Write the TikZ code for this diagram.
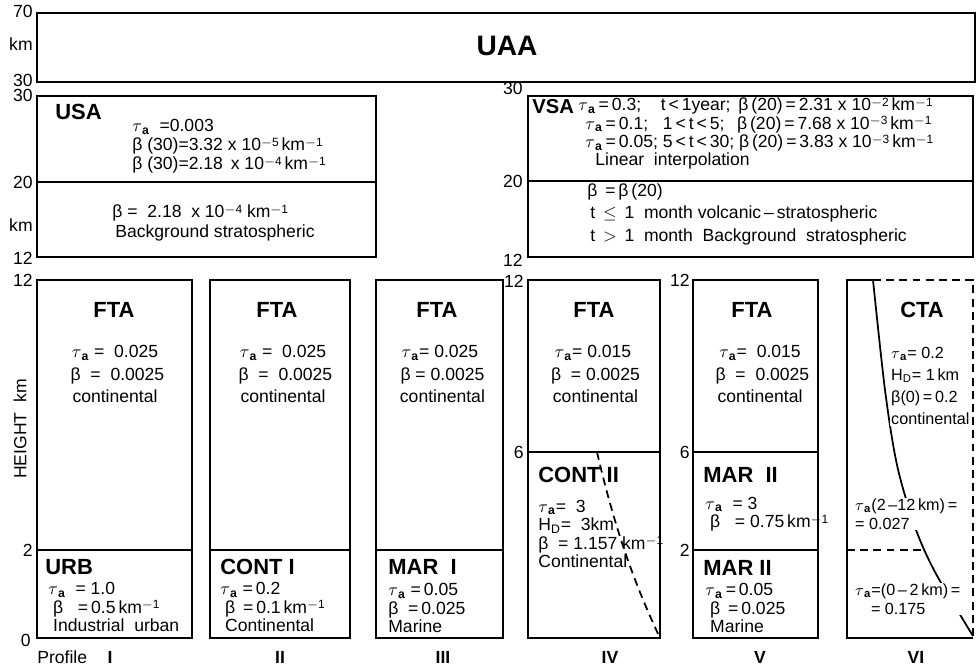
\documentclass[tikz,border=0pt]{standalone}
\usepackage{fontspec}
\setmainfont{Liberation Sans}
\usetikzlibrary{positioning}

\newcommand{\taua}{$\tau$\textsubscript{\textbf{a}}}
\newcommand{\hd}{H\textsubscript{D}}
\newcommand{\sups}[1]{\raisebox{2.6pt}{\fontsize{6.8}{7}\selectfont #1}}
\newcommand{\kmi}{km\sups{$-$1}}
\newcommand{\ten}[1]{10\sups{$-$#1}}
\newcommand{\tight}{\lineskiplimit=-20pt\relax}

\begin{document}
\begin{tikzpicture}[x=0.02cm,y=-0.02cm,
    frame/.style={line width=1pt},
    dsh/.style={line width=1pt,dash pattern=on 4.5pt off 3pt},
    txt/.style={font=\fontsize{10}{12.6}\selectfont\tight,inner sep=0pt,align=left,anchor=west},
    low/.style={font=\fontsize{10}{10.6}\selectfont\tight,inner sep=0pt,align=left,anchor=west},
    mid/.style={font=\fontsize{10}{12.6}\selectfont\tight,inner sep=0pt,align=center},
    cut/.style={font=\fontsize{9.2}{10.6}\selectfont\tight,inner sep=0.5pt,align=left,anchor=west,fill=white},
    ttl/.style={font=\fontsize{12.5}{14}\selectfont\bfseries,inner sep=0pt},
    tick/.style={font=\fontsize{10}{12}\selectfont,inner sep=0pt,anchor=east},
    num/.style={font=\fontsize{10}{12}\selectfont\bfseries,inner sep=0pt}
  ]
  \useasboundingbox (0,0) rectangle (978,669);

  % upper atmospheric aerosol
  \draw[frame] (37,13) rectangle (975,82);
  \node[font=\fontsize{16}{18}\selectfont\bfseries,inner sep=0pt] (uaa) at (507,46) {UAA};
  \node[tick] (t70) at (33,11) {70};
  \node[tick] (tkma) at (33,44) {km};
  \node[tick] (t30a) at (33,80) {30};

  % stratosphere, background
  \draw[frame] (37,96) rectangle (376,257);
  \draw[frame] (37,182) -- (376,182);
  \node[tick] (t30b) at (33,95) {30};
  \node[tick] (t20b) at (33,182) {20};
  \node[tick] (tkmb) at (33,225) {km};
  \node[tick] (t12b) at (33,258) {12};
  \node[ttl,anchor=west] (usa) at (55,112) {USA};
  \node[txt] (usa1) at (132,127) {\taua{} \ =0.003};
  \node[txt] (usa2) at (132,146) {β (30)=3.32 x \ten{5}\,\kmi};
  \node[txt] (usa3) at (132,165) {β (30)=2.18 \,x \ten{4}\,\kmi};
  \node[txt] (usa4) at (112,213) {β = \ 2.18 \ x \ten{4} \kmi};
  \node[txt] (usa5) at (115,233) {Background stratospheric};

  % stratosphere, volcanic
  \draw[frame] (528,96) rectangle (973,257);
  \draw[frame] (528,181) -- (973,181);
  \node[tick] (t30c) at (523,88) {30};
  \node[tick] (t20c) at (523,181) {20};
  \node[tick] (t12c) at (523,260) {12};
  \node[ttl,anchor=west,font=\fontsize{11.5}{14}\selectfont\bfseries] (vsa) at (532,107) {VSA};
  \node[txt] (vsa1) at (578,106) {\taua{}\,=\,0.3; \ \ \ t\,<\,1year; \,β\,(20)\,=\,2.31 x \ten{2}\,\kmi};
  \node[txt] (vsa2) at (585,124.5) {\taua{}\,=\,0.1; \ \ 1\,<\,t\,<\,5; \ \,β\,(20)\,=\,7.68 x \ten{3}\,\kmi};
  \node[txt] (vsa3) at (585,143) {\taua{}\,=\,0.05; 5\,<\,t\,<\,30; β\,(20)\,=\,3.83 x \ten{3}\,\kmi};
  \node[txt] (vsa4) at (595,161) {Linear \ interpolation};
  \node[txt] (vsa5) at (587,192) {β \,=\,β\,(20)};
  \node[txt] (vsa6) at (590,214) {t \,$\leq$\, 1 \ month volcanic\,--\,stratospheric};
  \node[txt] (vsa7) at (590,237) {t \,$>$\, 1 \ month \ Background \ stratospheric};

  % profile boxes
  \draw[frame] (37,280) rectangle (192,638);
  \draw[frame] (37,550) -- (192,550);
  \draw[frame] (210,280) rectangle (350,638);
  \draw[frame] (210,550) -- (350,550);
  \draw[frame] (376,280) rectangle (503,638);
  \draw[frame] (376,550) -- (503,550);
  \draw[frame] (528,280) rectangle (660,638);
  \draw[frame] (528,452) -- (660,452);
  \draw[frame] (693,280) rectangle (818,638);
  \draw[frame] (693,452) -- (818,452);
  \draw[frame] (693,550) -- (818,550);
  \draw[frame] (873,280) -- (847,280) -- (847,638) -- (973,638);
  \draw[dsh] (873,280) -- (973,280) -- (973,638);
  \draw[dsh] (847,550) -- (925,550);

  % decreasing profiles
  \draw[dsh] (597,452) .. controls (615,530) and (635,585) .. (660,638);
  \draw[frame] plot[smooth] coordinates {(873,280) (885,390) (897,465) (915,527) (935,572) (973,636)};

  % axis ticks
  \node[tick] (t12d) at (33,280) {12};
  \node[tick] (t2d) at (33,550) {2};
  \node[tick] (t0d) at (31,640) {0};
  \node[rotate=90,font=\fontsize{10}{12}\selectfont,inner sep=0pt] (hgt) at (20,429) {HEIGHT \ km};
  \node[tick] (t12e) at (524,281) {12};
  \node[tick] (t6e) at (524,452) {6};
  \node[tick] (t12f) at (690,280) {12};
  \node[tick] (t6f) at (690,452) {6};
  \node[tick] (t2f) at (690,550) {2};

  % profile I
  \node[ttl] (fta1) at (114,310) {FTA};
  \node[mid] (fta1t) at (115,374) {\taua{} = \ 0.025\\ \ β \ = \ 0.0025\\ continental};
  \node[ttl,anchor=west] (urb) at (45,567) {URB};
  \node[low] (urbt) at (48,607) {\taua{} \ = 1.0\\ \ β \ \ =\,0.5\,\kmi\\ \ Industrial \ urban};

  % profile II
  \node[ttl] (fta2) at (277,310) {FTA};
  \node[mid] (fta2t) at (283,374) {\taua{} = \ 0.025\\ \ β \ = \ 0.0025\\ continental};
  \node[ttl,anchor=west] (cont1) at (220,567) {CONT I};
  \node[low] (cont1t) at (220,607) {\taua{} =\,0.2\\ \ β \,=\,0.1\,\kmi\\ \ Continental};

  % profile III
  \node[ttl] (fta3) at (437,310) {FTA};
  \node[mid] (fta3t) at (440,374) {\taua{}= 0.025\\ \ β = 0.0025\\ \ continental};
  \node[ttl,anchor=west] (mar1) at (388,567) {MAR \ I};
  \node[low] (mar1t) at (388,608) {\taua{} =\,0.05\\ β \ =\,0.025\\ Marine};

  % profile IV
  \node[ttl] (fta4) at (594,310) {FTA};
  \node[mid] (fta4t) at (593,374) {\taua{}= 0.015\\ \ β \ = 0.0025\\ \ continental};
  \node[ttl,anchor=west] (cont2) at (538,475) {CONT II};
  \node[low] (cont2t) at (538,534) {\taua{}= \ 3\\ \hd= \ 3km\\ β \ = 1.157 \kmi\\ Continental};

  % profile V
  \node[ttl] (fta5) at (752,310) {FTA};
  \node[mid] (fta5t) at (760,374) {\taua{}= \ 0.015\\ \ β \ = \ 0.0025\\ continental};
  \node[ttl,anchor=west] (mar2a) at (703,475) {MAR \ II};
  \node[low] (mar2at) at (705,514) {\taua{} \ = 3\\ \ β \ \ = 0.75\,\kmi};
  \node[ttl,anchor=west] (mar2b) at (703,568) {MAR II};
  \node[low] (mar2bt) at (705,608) {\taua{}\,=\,0.05\\ \ β \,=\,0.025\\ \ Marine};

  % profile VI
  \node[ttl] (cta) at (922,310) {CTA};
  \node[cut,font=\fontsize{9.2}{12.6}\selectfont\tight] (ctat) at (890,386) {\taua{}= 0.2\\ \hd= 1\,km\\ β(0)\,=\,0.2\\ continental};
  \node[cut] (ctab) at (854,514) {\taua{}(2\,--12\,km)\,=\\ = 0.027};
  \node[cut] (ctac) at (854,599) {\taua{}=(0\,--\,2\,km)\,=\\ \hspace{9pt}= 0.175};

  % profile numbers
  \node[font=\fontsize{10}{12}\selectfont,inner sep=0pt,anchor=west] (prof) at (37,657) {Profile};
  \node[num] (p1) at (110,657) {I};
  \node[num] (p2) at (280,657) {II};
  \node[num] (p3) at (443,657) {III};
  \node[num] (p4) at (610,657) {IV};
  \node[num] (p5) at (760,657) {V};
  \node[num] (p6) at (916,657) {VI};
\end{tikzpicture}
\end{document}
